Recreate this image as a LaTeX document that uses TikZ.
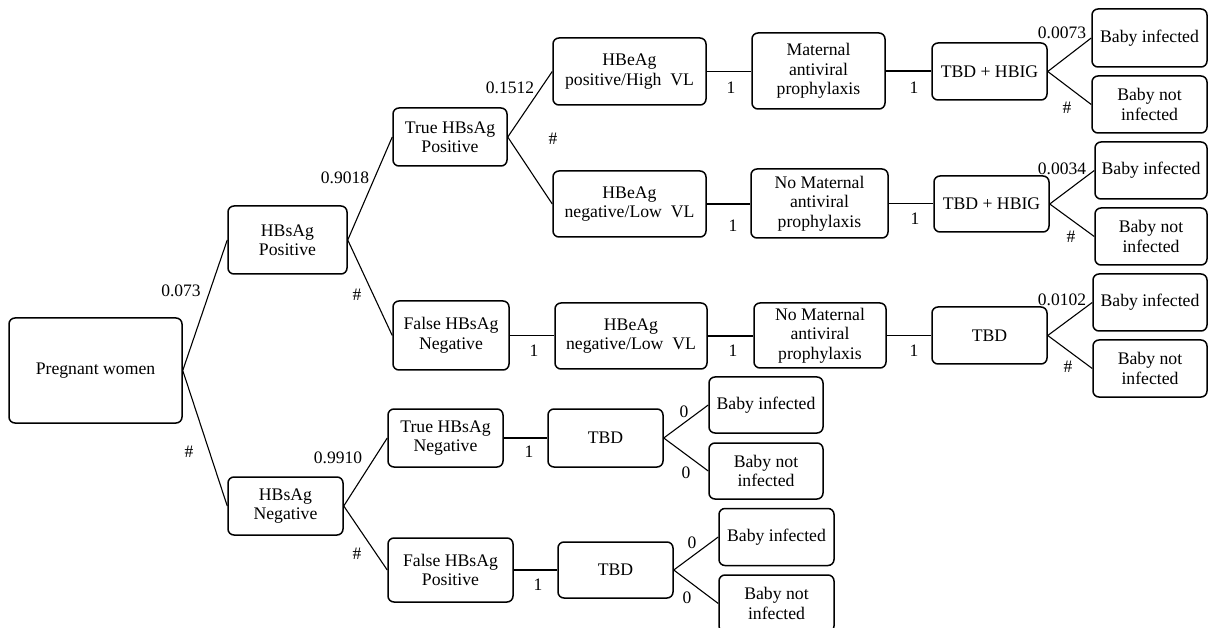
\documentclass[tikz,border=0pt]{standalone}
\usepackage{fontspec}
\setmainfont{Liberation Serif}
\begin{document}
\begin{tikzpicture}[x=1pt,y=-1pt,
  box/.style={draw, line width=1.5pt, rounded corners=6pt, align=center, inner sep=0pt,
    font=\fontsize{17.7}{19.5}\selectfont},
  conn/.style={line width=1.1pt},
  lbl/.style={inner sep=0pt, font=\fontsize{17.5}{19.5}\selectfont}]
\useasboundingbox (0,0) rectangle (1208,628);
% nodes
\node[box, minimum width=173pt, minimum height=105pt] (pw) at (95.5,370.5) {Pregnant women};
\node[box, minimum width=119pt, minimum height=68pt] (hbp) at (287.5,240) {HBsAg\\Positive};
\node[box, minimum width=115pt, minimum height=58pt] (hbn) at (285.5,506) {HBsAg\\Negative};
\node[box, minimum width=114pt, minimum height=58pt] (thp) at (450,137) {True HBsAg\\Positive};
\node[box, minimum width=116pt, minimum height=69pt] (fhn) at (451,335.5) {False HBsAg\\Negative};
\node[box, minimum width=115pt, minimum height=58pt] (thn) at (445.5,438) {True HBsAg\\Negative};
\node[box, minimum width=125pt, minimum height=64pt] (fhp) at (450.5,570) {False HBsAg\\Positive};
\node[box, minimum width=153pt, minimum height=67pt] (ea1) at (629.5,71.5) {HBeAg\\positive/High\enspace VL};
\node[box, minimum width=153pt, minimum height=66pt] (ea2) at (629.5,204) {HBeAg\\negative/Low\enspace VL};
\node[box, minimum width=152pt, minimum height=66pt] (ea3) at (631,336) {HBeAg\\negative/Low\enspace VL};
\node[box, minimum width=133pt, minimum height=76pt] (m1) at (818.5,71) {Maternal\\antiviral\\prophylaxis};
\node[box, minimum width=137pt, minimum height=69pt] (m2) at (819.5,203.5) {No Maternal\\antiviral\\prophylaxis};
\node[box, minimum width=132pt, minimum height=65pt] (m3) at (820,335.5) {No Maternal\\antiviral\\prophylaxis};
\node[box, minimum width=115pt, minimum height=57pt] (t1) at (989.5,71.5) {TBD + HBIG};
\node[box, minimum width=115pt, minimum height=56pt] (t2) at (991.5,204) {TBD + HBIG};
\node[box, minimum width=115pt, minimum height=57pt] (t3) at (989.5,335.5) {TBD};
\node[box, minimum width=115pt, minimum height=58pt] (t4) at (605.5,438) {TBD};
\node[box, minimum width=115pt, minimum height=56pt] (t5) at (615.5,570) {TBD};
\node[box, minimum width=115pt, minimum height=58pt] (b1i) at (1149.5,38) {Baby infected};
\node[box, minimum width=115pt, minimum height=57pt] (b1n) at (1149.5,104.5) {Baby not\\infected};
\node[box, minimum width=112pt, minimum height=57pt] (b2i) at (1151,170.5) {Baby infected};
\node[box, minimum width=112pt, minimum height=57pt] (b2n) at (1151,236.5) {Baby not\\infected};
\node[box, minimum width=114pt, minimum height=57pt] (b3i) at (1150,302.5) {Baby infected};
\node[box, minimum width=114pt, minimum height=57pt] (b3n) at (1150,368.5) {Baby not\\infected};
\node[box, minimum width=114pt, minimum height=56pt] (b4i) at (766,405) {Baby infected};
\node[box, minimum width=114pt, minimum height=56pt] (b4n) at (766,471) {Baby not\\infected};
\node[box, minimum width=115pt, minimum height=57pt] (b5i) at (776.5,537) {Baby infected};
\node[box, minimum width=115pt, minimum height=57pt] (b5n) at (776.5,603.5) {Baby not\\infected};
% connectors
\draw[conn] (pw.east) -- (hbp.west);
\draw[conn] (pw.east) -- (hbn.west);
\draw[conn] (hbp.east) -- (thp.west);
\draw[conn] (hbp.east) -- (fhn.west);
\draw[conn] (thp.east) -- (ea1.west);
\draw[conn] (thp.east) -- (ea2.west);
\draw[conn] (ea1.east) -- (m1.west |- ea1.east);
\draw[conn] (ea2.east) -- (m2.west |- ea2.east);
\draw[conn] (fhn.east) -- (ea3.west |- fhn.east);
\draw[conn] (ea3.east) -- (m3.west |- ea3.east);
\draw[conn] (m1.east) -- (t1.west |- m1.east);
\draw[conn] (m2.east) -- (t2.west |- m2.east);
\draw[conn] (m3.east) -- (t3.west |- m3.east);
\draw[conn] (t1.east) -- (b1i.west);
\draw[conn] (t1.east) -- (b1n.west);
\draw[conn] (t2.east) -- (b2i.west);
\draw[conn] (t2.east) -- (b2n.west);
\draw[conn] (t3.east) -- (b3i.west);
\draw[conn] (t3.east) -- (b3n.west);
\draw[conn] (hbn.east) -- (thn.west);
\draw[conn] (hbn.east) -- (fhp.west);
\draw[conn] (thn.east) -- (t4.west |- thn.east);
\draw[conn] (fhp.east) -- (t5.west |- fhp.east);
\draw[conn] (t4.east) -- (b4i.west);
\draw[conn] (t4.east) -- (b4n.west);
\draw[conn] (t5.east) -- (b5i.west);
\draw[conn] (t5.east) -- (b5n.west);
% labels
\node[lbl] (l1) at (181,291) {0.073};
\node[lbl] (l2) at (189,452) {\#};
\node[lbl] (l3) at (345,178) {0.9018};
\node[lbl] (l4) at (357,295) {\#};
\node[lbl] (l5) at (510,88) {0.1512};
\node[lbl] (l6) at (553,139) {\#};
\node[lbl] (l7) at (731,88) {1};
\node[lbl] (l8) at (733,226) {1};
\node[lbl] (l9) at (914,88) {1};
\node[lbl] (l10) at (915,219) {1};
\node[lbl] (l11) at (1062,33) {0.0073};
\node[lbl] (l12) at (1067,108) {\#};
\node[lbl] (l13) at (1062,169) {0.0034};
\node[lbl] (l14) at (1071,237) {\#};
\node[lbl] (l15) at (534,351) {1};
\node[lbl] (l16) at (733,351) {1};
\node[lbl] (l17) at (914,351) {1};
\node[lbl] (l18) at (1062,300) {0.0102};
\node[lbl] (l19) at (1068,367) {\#};
\node[lbl] (l20) at (338,458) {0.9910};
\node[lbl] (l21) at (357,554) {\#};
\node[lbl] (l22) at (529,452) {1};
\node[lbl] (l23) at (684,412) {0};
\node[lbl] (l24) at (686,473) {0};
\node[lbl] (l25) at (538,585) {1};
\node[lbl] (l26) at (692,543) {0};
\node[lbl] (l27) at (687,598) {0};
\end{tikzpicture}
\end{document}
